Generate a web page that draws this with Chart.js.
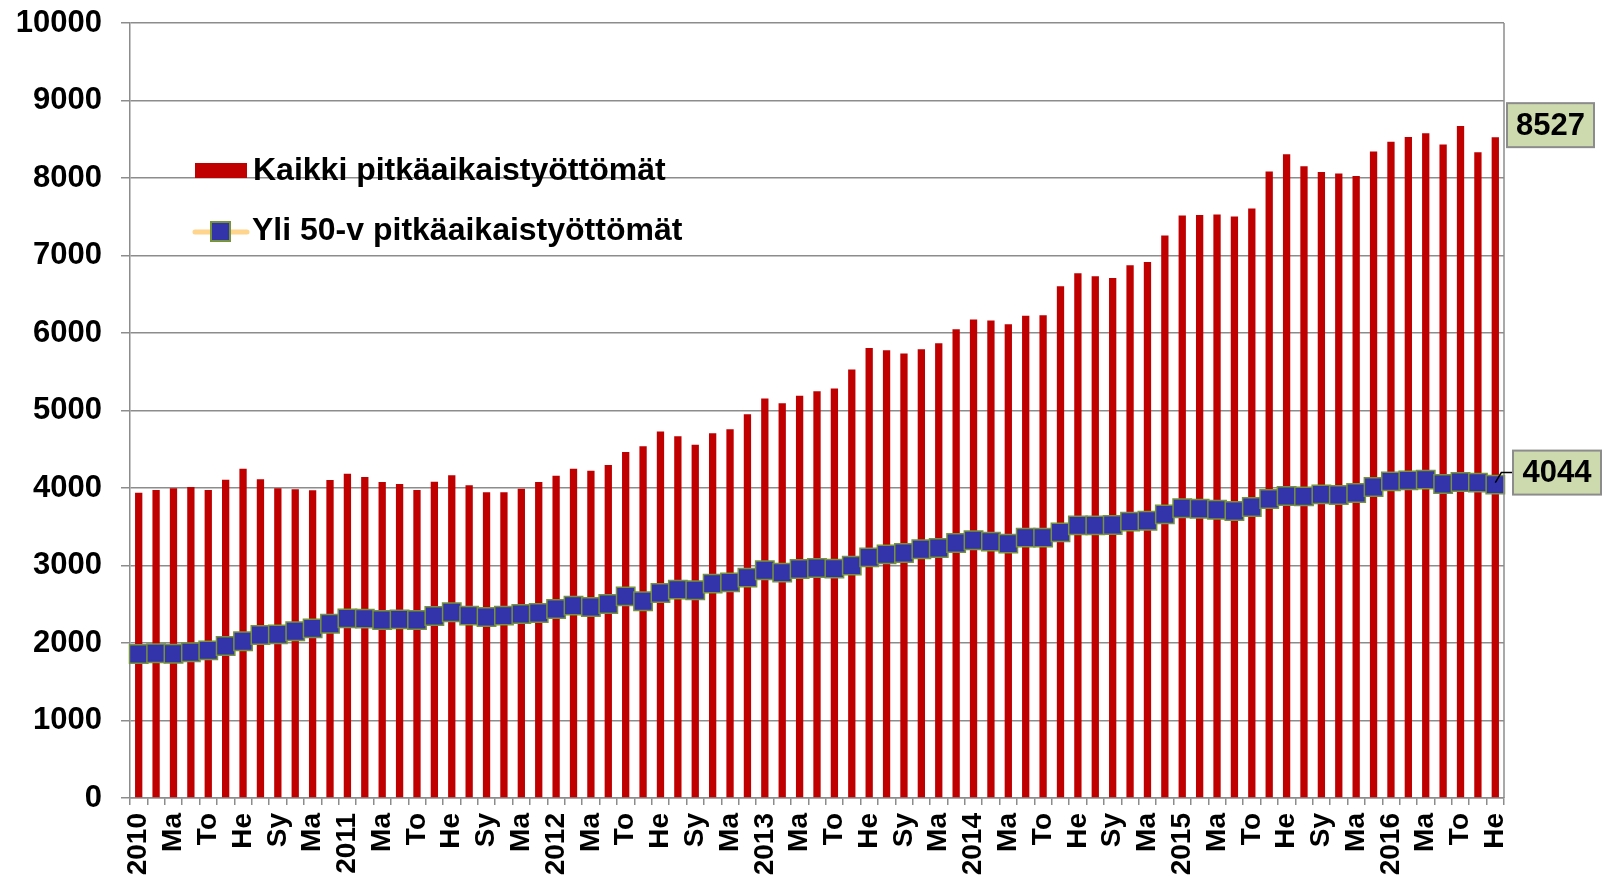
<!DOCTYPE html>
<html>
<head>
<meta charset="utf-8">
<script src="https://cdn.jsdelivr.net/npm/chart.js@4.4.0/dist/chart.umd.min.js"></script>
<style>
  body { margin: 0; background: #fff; }
  canvas { display: block; }
</style>
</head>
<body>
<canvas id="chart" width="1608" height="875"></canvas>
<script>
// --- data ---------------------------------------------------------------
const years = ['2010', '2011', '2012', '2013', '2014', '2015', '2016'];
const monthAbbr = ['', 'He', 'Ma', 'Hu', 'To', 'Ke', 'He', 'El', 'Sy', 'Lo', 'Ma', 'Jo'];
const monthsIn2016 = 7;

const kaikki = [
  3940, 3974, 3996, 4013, 3974, 4108, 4249, 4112, 3996, 3983, 3970, 4103,
  4185, 4142, 4077, 4052, 3974, 4082, 4163, 4034, 3944, 3944, 3991, 4077,
  4159, 4249, 4224, 4297, 4465, 4538, 4730, 4668, 4559, 4705, 4759, 4953,
  5155, 5095, 5189, 5249, 5284, 5529, 5808, 5778, 5735, 5791, 5868, 6049,
  6174, 6161, 6114, 6221, 6230, 6604, 6771, 6733, 6711, 6874, 6917, 7257,
  7515, 7524, 7528, 7502, 7605, 8083, 8306, 8151, 8078, 8057, 8027, 8341,
  8469, 8530, 8577, 8431, 8672, 8332, 8527
];

const yli50 = [
  1858, 1867, 1862, 1880, 1905, 1961, 2022, 2103, 2112, 2151, 2189, 2249,
  2318, 2314, 2297, 2305, 2297, 2348, 2396, 2353, 2335, 2353, 2374, 2387,
  2439, 2482, 2465, 2503, 2602, 2538, 2645, 2688, 2680, 2766, 2783, 2843,
  2938, 2908, 2955, 2968, 2959, 2998, 3105, 3144, 3161, 3209, 3226, 3290,
  3325, 3308, 3282, 3359, 3359, 3428, 3518, 3518, 3523, 3566, 3578, 3660,
  3738, 3733, 3720, 3703, 3755, 3858, 3897, 3892, 3918, 3910, 3935, 4013,
  4086, 4099, 4108, 4052, 4077, 4069, 4044
];

const yTicks = [0, 1000, 2000, 3000, 4000, 5000, 6000, 7000, 8000, 9000, 10000];

// category labels: year at January, month abbreviation otherwise
const labels = [];
years.forEach((y, i) => {
  const n = i === years.length - 1 ? monthsIn2016 : 12;
  for (let m = 0; m < n; m++) labels.push(m === 0 ? y : monthAbbr[m]);
});

const FONT = "'Liberation Sans', Arial, sans-serif";
const GRID = '#8c8c8c';
const RED = '#c00000';
const BLUE = '#3333aa';
const OLIVE = '#77933c';
const PALE = '#ffd48c';
const BOXFILL = '#ccdaad';

// right border + legend + end labels
const extras = {
  id: 'extras',
  afterDatasetsDraw(chart) {
    const c = chart.ctx;
    const a = chart.chartArea;

    // right edge of plot
    c.save();
    c.strokeStyle = GRID;
    c.lineWidth = 1.5;
    c.beginPath();
    c.moveTo(a.right, a.top);
    c.lineTo(a.right, a.bottom);
    c.stroke();

    // legend
    c.font = 'bold 32px ' + FONT;
    c.textBaseline = 'middle';
    c.textAlign = 'left';
    c.fillStyle = RED;
    c.fillRect(195, 163, 52, 15);
    c.fillStyle = '#000';
    c.fillText(chart.data.datasets[0].label, 253, 171);

    c.strokeStyle = PALE;
    c.lineWidth = 5;
    c.lineCap = 'round';
    c.beginPath();
    c.moveTo(195, 232);
    c.lineTo(247, 232);
    c.stroke();
    c.fillStyle = BLUE;
    c.fillRect(211, 222, 19, 19);
    c.strokeStyle = OLIVE;
    c.lineWidth = 2;
    c.strokeRect(211, 222, 19, 19);
    c.fillStyle = '#000';
    c.fillText(chart.data.datasets[1].label, 252, 231);

    // end value boxes
    c.font = 'bold 31px ' + FONT;
    const box = (x, yc, w, txt) => {
      c.fillStyle = BOXFILL;
      c.fillRect(x, yc - 22, w, 44);
      c.strokeStyle = GRID;
      c.lineWidth = 2;
      c.strokeRect(x, yc - 22, w, 44);
      c.fillStyle = '#000';
      c.textAlign = 'center';
      c.fillText(txt, x + w / 2, yc + 1);
    };
    const barMeta = chart.getDatasetMeta(0);
    const lineMeta = chart.getDatasetMeta(1);
    const lastBar = barMeta.data[barMeta.data.length - 1];
    const lastPt = lineMeta.data[lineMeta.data.length - 1];

    box(a.right + 3, lastBar.y - 12, 87, String(kaikki[kaikki.length - 1]));

    const ly = lastPt.y - 12;
    c.strokeStyle = '#000';
    c.lineWidth = 1.5;
    c.lineCap = 'butt';
    c.beginPath();
    c.moveTo(lastPt.x, lastPt.y - 2);
    c.lineTo(lastPt.x + 6, ly);
    c.lineTo(a.right + 9, ly);
    c.stroke();
    box(a.right + 9, ly, 88, String(yli50[yli50.length - 1]));
    c.restore();
  }
};

new Chart(document.getElementById('chart'), {
  type: 'bar',
  data: {
    labels: labels,
    datasets: [{
      label: 'Kaikki pitkäaikaistyöttömät',
      data: kaikki,
      backgroundColor: RED,
      categoryPercentage: 1,
      barPercentage: 0.42,
      order: 2
    }, {
      type: 'line',
      label: 'Yli 50-v pitkäaikaistyöttömät',
      data: yli50,
      borderColor: PALE,
      borderWidth: 4,
      tension: 0,
      pointStyle: 'rect',
      pointRadius: 13,
      pointBackgroundColor: BLUE,
      pointBorderColor: OLIVE,
      pointBorderWidth: 1.5,
      order: 1
    }]
  },
  options: {
    responsive: false,
    animation: false,
    devicePixelRatio: 1,
    layout: { padding: { top: 23, right: 104, left: 0, bottom: 0 } },
    plugins: {
      legend: { display: false },
      tooltip: { enabled: false }
    },
    scales: {
      x: {
        offset: true,
        grid: {
          offset: true,
          drawOnChartArea: false,
          drawTicks: true,
          tickLength: 7,
          color: GRID,
          lineWidth: 1.5
        },
        border: { color: GRID, width: 1.5 },
        ticks: {
          autoSkip: false,
          minRotation: 90,
          maxRotation: 90,
          padding: 8,
          color: '#000',
          font: { family: FONT, size: 28, weight: 'bold' },
          callback: function (v, i) { return i % 2 === 0 ? this.getLabelForValue(v) : ''; }
        },
        afterFit: (s) => { s.height = 77; s.paddingLeft = 0; s.paddingRight = 0; }
      },
      y: {
        min: yTicks[0],
        max: yTicks[yTicks.length - 1],
        afterBuildTicks: (s) => { s.ticks = yTicks.map(v => ({ value: v })); },
        grid: { color: GRID, lineWidth: 1.5, tickLength: 9 },
        border: { color: GRID, width: 1.5 },
        ticks: {
          padding: 19,
          color: '#000',
          font: { family: FONT, size: 31, weight: 'bold' },
          callback: (v) => String(v)
        },
        afterFit: (s) => { s.width = 130; s.paddingTop = 0; s.paddingBottom = 0; }
      }
    }
  },
  plugins: [extras]
});
</script>
</body>
</html>
